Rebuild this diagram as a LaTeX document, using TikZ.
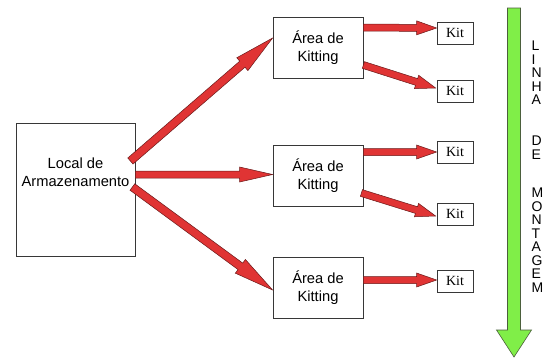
\documentclass[tikz,border=0pt]{standalone}
\usepackage{fontspec}
\setmainfont{Liberation Sans}
\newfontfamily\kitfont{Liberation Serif}
\usepackage{tikz}
\usetikzlibrary{calc}
\definecolor{arrowred}{RGB}{224,52,52}
\definecolor{arrowedge}{RGB}{105,25,25}
\definecolor{linegreen}{RGB}{128,238,72}
\definecolor{greenedge}{RGB}{75,95,60}
\definecolor{boxedge}{RGB}{55,55,55}
\newcommand{\blockarrow}[6]{
\coordinate (ba-a) at (#2);
\coordinate (ba-b) at (#3);
\coordinate (ba-h) at ($(ba-b)!#4!(ba-a)$);
\filldraw [#1] ($(ba-a)!#5!90:(ba-b)$) -- ($(ba-h)!#5!90:(ba-b)$) -- ($(ba-h)!#6!90:(ba-b)$) -- (ba-b) -- ($(ba-h)!#6!-90:(ba-b)$) -- ($(ba-h)!#5!-90:(ba-b)$) -- ($(ba-a)!#5!-90:(ba-b)$) -- cycle;
}

\begin{document}
\begin{tikzpicture}[x=1pt,y=-1pt]
\tikzstyle{every node}+=[inner sep=0pt]
\tikzstyle{storebox}=[draw=boxedge, line width=0.8pt, minimum width=119pt, minimum height=133pt]
\tikzstyle{areabox}=[draw=boxedge, line width=0.8pt, minimum width=90pt, minimum height=61pt, align=center, font=\fontsize{14.7}{18}\selectfont]
\tikzstyle{kitbox}=[draw=boxedge, line width=0.8pt, minimum width=36pt, minimum height=22pt, font=\kitfont\fontsize{14}{16}\selectfont]
\tikzstyle{redarrow}=[fill=arrowred, draw=arrowedge, line width=0.5pt]
\tikzstyle{greenarrow}=[fill=linegreen, draw=greenedge, line width=0.6pt]
\tikzstyle{linhatext}=[anchor=north west, align=left, font=\fontsize{14}{13.5}\selectfont]
\useasboundingbox (0,0) rectangle (548,360);
\node [storebox, label={[name=storetext, align=center, font=\fontsize{14.7}{18}\selectfont, yshift=17.5pt]center:Local de\\Armazenamento}] (store) at (75.5,189.5) {};
\node [areabox] (area1) at (318,47.5) {Área de\\Kitting};
\node [areabox] (area2) at (318,176) {Área de\\Kitting};
\node [areabox] (area3) at (318,287.5) {Área de\\Kitting};
\node [kitbox] (kit1) at (455,33) {Kit};
\node [kitbox] (kit2) at (455,91) {Kit};
\node [kitbox] (kit3) at (455,152) {Kit};
\node [kitbox] (kit4) at (455,214) {Kit};
\node [kitbox] (kit5) at (455,281) {Kit};
\node [linhatext] (linha) at (531.5,41) {L\\I\\N\\H\\A\\[27.5pt]D\\E\\[25pt]M\\O\\N\\T\\A\\G\\E\\M};
\blockarrow{redarrow}{$(store.east)+(-5,-28.5)$}{$(area1.west)+(0,-9.5)$}{40pt}{4pt}{8.5pt}
\blockarrow{redarrow}{$(store.east)+(0,-15)$}{$(area2.west)+(0,-1.5)$}{33pt}{3.5pt}{7.5pt}
\blockarrow{redarrow}{$(store.east)+(-3,-2.5)$}{$(area3.west)+(0,2.5)$}{40pt}{4pt}{8.5pt}
\blockarrow{redarrow}{$(area1.east)+(0,-20)$}{$(kit1.west)+(0,-5)$}{20pt}{3.5pt}{7pt}
\blockarrow{redarrow}{$(area1.east)+(0,17.5)$}{$(kit2.west)+(-1,-3)$}{20pt}{3.5pt}{7pt}
\blockarrow{redarrow}{$(area2.east)+(0,-24)$}{kit3.west}{20pt}{3.5pt}{7pt}
\blockarrow{redarrow}{$(area2.east)+(-2,17)$}{$(kit4.west)+(-1,2)$}{20pt}{3.5pt}{7pt}
\blockarrow{redarrow}{$(area3.east)+(0,-7.5)$}{$(kit5.west)+(0,-1)$}{20pt}{3.5pt}{7pt}
\blockarrow{greenarrow}{514,8}{514,357}{27pt}{6.5pt}{17.5pt}
\end{tikzpicture}
\end{document}
